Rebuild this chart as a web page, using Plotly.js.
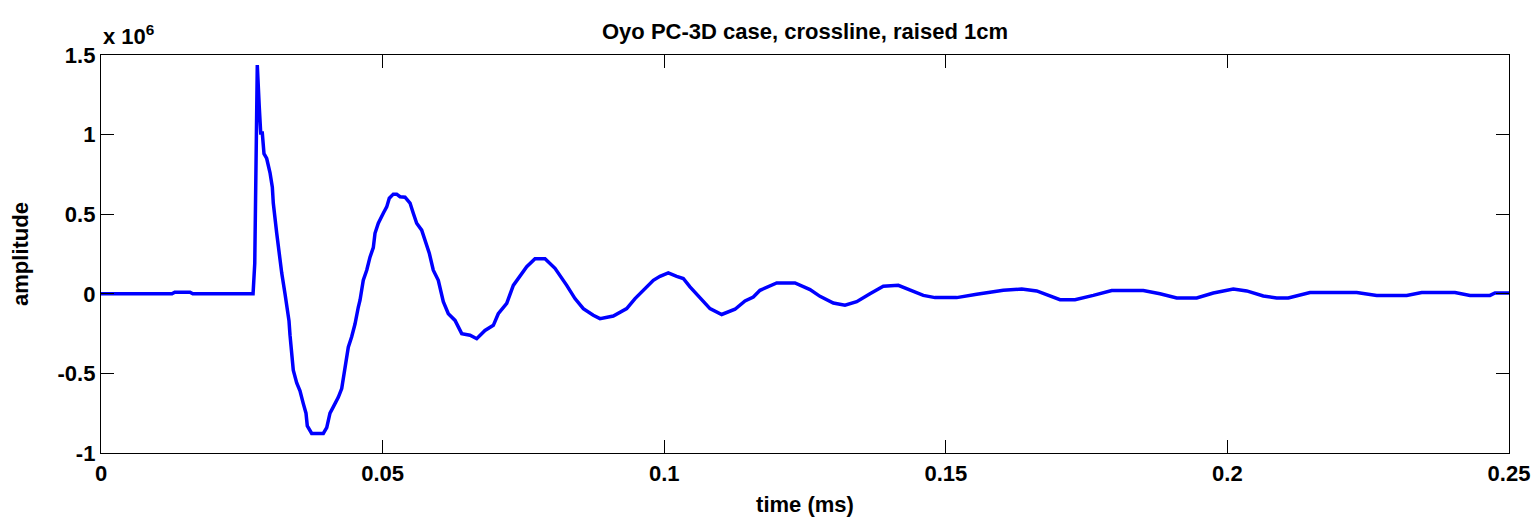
<!DOCTYPE html>
<html>
<head>
<meta charset="utf-8">
<script src="https://cdn.plot.ly/plotly-3.0.1.min.js"></script>
<style>
html,body{margin:0;padding:0;background:#fff;}
#chart{width:1537px;height:517px;}
</style>
</head>
<body>
<div id="chart"></div>
<script>
// time in ms
const time = [0, 0.0126, 0.0131, 0.0158, 0.0163, 0.0270, 0.0273, 0.02775, 0.0281, 0.02836, 0.02864, 0.02894, 0.02942, 0.03001, 0.03042, 0.03059, 0.0312, 0.0316, 0.03209, 0.03267, 0.03338, 0.03356, 0.03414, 0.03475, 0.03533, 0.03592, 0.0364, 0.03663, 0.03741, 0.03858, 0.03947, 0.04008, 0.04066, 0.04125, 0.04213, 0.04274, 0.04332, 0.04391, 0.04451, 0.0451, 0.04569, 0.04599, 0.04657, 0.04718, 0.04776, 0.04835, 0.04865, 0.04924, 0.05012, 0.05073, 0.05119, 0.0519, 0.0525, 0.05309, 0.05398, 0.05487, 0.05545, 0.05605, 0.05694, 0.05753, 0.05829, 0.059, 0.05989, 0.06078, 0.06167, 0.06286, 0.06344, 0.06405, 0.06552, 0.06671, 0.06818, 0.06966, 0.07054, 0.07204, 0.07321, 0.0744, 0.07559, 0.07706, 0.07884, 0.08061, 0.0815, 0.08269, 0.08416, 0.08564, 0.08741, 0.0886, 0.09096, 0.09215, 0.09334, 0.09482, 0.09629, 0.09807, 0.09925, 0.10073, 0.10222, 0.10339, 0.10458, 0.10694, 0.10813, 0.11021, 0.11257, 0.11435, 0.11582, 0.11701, 0.11848, 0.11998, 0.12322, 0.12589, 0.12766, 0.13003, 0.1321, 0.13418, 0.13654, 0.1389, 0.14157, 0.14364, 0.14601, 0.14808, 0.15194, 0.15549, 0.16021, 0.16348, 0.16614, 0.17028, 0.17294, 0.17619, 0.17946, 0.18507, 0.18803, 0.191, 0.19455, 0.1975, 0.20105, 0.20343, 0.20638, 0.20875, 0.21081, 0.21467, 0.22296, 0.22651, 0.23184, 0.2345, 0.24041, 0.24308, 0.24663, 0.24751, 0.25];
// amplitude in units of 1e6
const amplitude = [0, 0, 0.01, 0.01, 0, 0, 0.19, 1.437, 1.175, 1.01, 1.01, 0.88, 0.85, 0.76, 0.67, 0.57, 0.38, 0.26, 0.13, 0.0, -0.17, -0.26, -0.48, -0.56, -0.61, -0.69, -0.75, -0.83, -0.877, -0.877, -0.877, -0.84, -0.75, -0.71, -0.65, -0.595, -0.46, -0.335, -0.27, -0.19, -0.083, -0.04, 0.085, 0.148, 0.23, 0.29, 0.38, 0.443, 0.506, 0.546, 0.60, 0.626, 0.626, 0.61, 0.607, 0.57, 0.506, 0.443, 0.40, 0.336, 0.255, 0.148, 0.085, -0.05, -0.125, -0.167, -0.21, -0.25, -0.26, -0.282, -0.23, -0.198, -0.125, -0.06, 0.053, 0.116, 0.17, 0.22, 0.22, 0.16, 0.116, 0.053, -0.03, -0.093, -0.135, -0.156, -0.14, -0.114, -0.093, -0.03, 0.022, 0.085, 0.11, 0.131, 0.11, 0.096, 0.043, -0.05, -0.093, -0.13, -0.097, -0.045, -0.02, 0.022, 0.043, 0.068, 0.068, 0.026, -0.016, -0.058, -0.072, -0.05, 0.0, 0.047, 0.053, 0.026, -0.01, -0.024, -0.024, -0.003, 0.022, 0.03, 0.018, -0.037, -0.037, -0.01, 0.02, 0.02, 0.0, -0.026, -0.026, 0.005, 0.03, 0.018, -0.014, -0.026, -0.026, 0.008, 0.008, -0.01, -0.01, 0.008, 0.008, -0.01, -0.01, 0.005, 0.005];

const xTickVals = [0, 0.05, 0.1, 0.15, 0.2, 0.25];
const xTickText = ["0", "0.05", "0.1", "0.15", "0.2", "0.25"];
const yTickVals = [-1, -0.5, 0, 0.5, 1, 1.5];
const yTickText = ["-1", "-0.5", "0", "0.5", "1", "1.5"];

const FONT = "Liberation Sans, Arial, sans-serif";

const trace = {
  x: time, y: amplitude, type: "scatter", mode: "lines",
  line: {color: "#0000ff", width: 3.5}, hoverinfo: "skip"
};

const axisCommon = {
  showgrid: false, zeroline: false, showline: true, linecolor: "#000", linewidth: 1.2,
  mirror: "allticks", ticks: "inside", ticklen: 13, tickwidth: 1, tickcolor: "#000",
  tickfont: {family: FONT, size: 22, color: "#000", weight: "bold"}
};

const layout = {
  width: 1537, height: 517,
  margin: {l: 101, r: 28, t: 55, b: 64},
  paper_bgcolor: "#fff", plot_bgcolor: "#fff",
  showlegend: false,
  title: {text: "<b>Oyo PC-3D case, crossline, raised 1cm</b>", font: {family: FONT, size: 22, color: "#000"}, x: 0.5, xref: "paper", y: 0.94, yanchor: "middle"},
  xaxis: Object.assign({}, axisCommon, {
    range: [0, 0.25], tickvals: xTickVals, ticktext: xTickText,
    title: {text: "<b>time (ms)</b>", font: {family: FONT, size: 22, color: "#000"}, standoff: 14}
  }),
  yaxis: Object.assign({}, axisCommon, {
    range: [-1, 1.5], tickvals: yTickVals, ticktext: yTickText,
    title: {text: "<b>amplitude</b>", font: {family: FONT, size: 22, color: "#000"}, standoff: 22}
  }),
  annotations: [{
    text: "<b>x 10<sup>6</sup></b>", xref: "paper", yref: "paper", x: 0, y: 1, xanchor: "left", yanchor: "bottom",
    yshift: 4, showarrow: false, font: {family: FONT, size: 22, color: "#000"}
  }]
};

Plotly.newPlot("chart", [trace], layout, {displayModeBar: false, staticPlot: true});
</script>
</body>
</html>
